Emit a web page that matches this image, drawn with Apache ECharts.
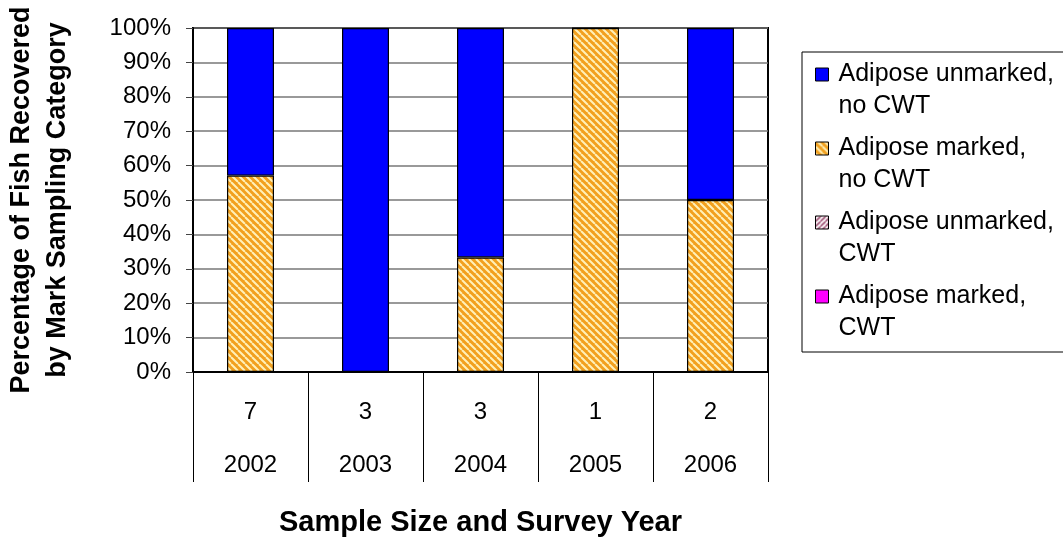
<!DOCTYPE html>
<html>
<head>
<meta charset="utf-8">
<script src="https://cdn.jsdelivr.net/npm/echarts@6/dist/echarts.min.js"></script>
<style>
  html, body { margin: 0; padding: 0; background: #ffffff; }
  #chart { width: 1063px; height: 538px; }
</style>
</head>
<body>
<div id="chart"></div>
<script>
// Survey years and the number of fish recovered in each year
const years = ['2002', '2003', '2004', '2005', '2006'];
const sampleSizes = ['7', '3', '3', '1', '2'];

// Mark sampling categories (legend order, top of stack first)
const nameUnmarkedNoCwt = 'Adipose unmarked,\nno CWT';
const nameMarkedNoCwt = 'Adipose marked,\nno CWT';
const nameUnmarkedCwt = 'Adipose unmarked,\nCWT';
const nameMarkedCwt = 'Adipose marked,\nCWT';

// Percent of fish in each category per year
const unmarkedNoCwt = [42.9, 100, 66.7, 0, 50];
const markedNoCwt = [57.1, 0, 33.3, 100, 50];
const unmarkedCwt = [0, 0, 0, 0, 0];
const markedCwt = [0, 0, 0, 0, 0];

const FONT = '"Liberation Sans", Arial, Helvetica, sans-serif';

// Diagonal hatch fill built on a small repeating canvas tile
function hatch(bg, fg, dir, size, width) {
  const c = document.createElement('canvas');
  c.width = size; c.height = size;
  const g = c.getContext('2d');
  g.fillStyle = bg;
  g.fillRect(0, 0, size, size);
  g.strokeStyle = fg;
  g.lineWidth = width;
  g.beginPath();
  for (let k = -1; k <= 1; k++) {
    if (dir === 'down') {
      g.moveTo(k * size, 0); g.lineTo(k * size + size, size);
    } else {
      g.moveTo(k * size, size); g.lineTo(k * size + size, 0);
    }
  }
  g.stroke();
  return { image: c, repeat: 'repeat' };
}

const orangeHatch = hatch('#f2a01e', '#fff0b8', 'down', 7, 2);
const mauveHatch = hatch('#ffffff', '#9a4a6e', 'up', 5, 1.6);

// Legend swatch: a 13px square placed beside the first text line of a two-line entry
const legendIcon = 'path://M0,0M18,64M0,9.5h13v13h-13z';

const barStyle = (color) => ({ color: color, borderColor: '#000', borderWidth: 1.2 });

const chart = echarts.init(document.getElementById('chart'), null, { renderer: 'canvas' });

chart.setOption({
  animation: false,
  backgroundColor: '#ffffff',
  textStyle: { fontFamily: FONT, color: '#000' },
  grid: {
    left: 193, top: 28, right: 295, bottom: 166,
    outerBoundsMode: 'none',
    show: true, borderColor: '#000', borderWidth: 2, backgroundColor: 'transparent'
  },
  legend: {
    orient: 'vertical',
    left: 802, top: 52,
    padding: [6, 40, 7, 13],
    itemGap: 9,
    itemWidth: 18,
    itemHeight: 64,
    icon: legendIcon,
    borderColor: '#000', borderWidth: 1,
    backgroundColor: '#fff',
    itemStyle: { borderColor: '#000', borderWidth: 1 },
    textStyle: { fontFamily: FONT, fontSize: 25, lineHeight: 32, color: '#000' },
    data: [nameUnmarkedNoCwt, nameMarkedNoCwt, nameUnmarkedCwt, nameMarkedCwt]
  },
  xAxis: {
    type: 'category',
    data: years,
    boundaryGap: true,
    axisLine: { show: true, lineStyle: { color: '#000', width: 2 } },
    axisTick: { show: true, length: 110, lineStyle: { color: '#000', width: 1 } },
    axisLabel: {
      interval: 0,
      margin: 14,
      formatter: (v, i) => '{n|' + sampleSizes[i] + '}\n{y|' + v + '}',
      rich: {
        n: { fontFamily: FONT, fontSize: 24, lineHeight: 53, color: '#000' },
        y: { fontFamily: FONT, fontSize: 24, lineHeight: 53, color: '#000' }
      }
    },
    name: 'Sample Size and Survey Year',
    nameLocation: 'middle',
    nameGap: 136,
    nameTextStyle: { fontFamily: FONT, fontSize: 29, fontWeight: 'bold', color: '#000' }
  },
  yAxis: {
    type: 'value',
    min: 0, max: 100, interval: 10,
    axisLine: { show: true, lineStyle: { color: '#000', width: 2 } },
    axisTick: { show: true, length: 7, lineStyle: { color: '#444', width: 1 } },
    axisLabel: {
      margin: 22,
      formatter: '{value}%',
      fontFamily: FONT, fontSize: 24, color: '#000'
    },
    splitLine: { show: true, lineStyle: { color: '#777', width: 1.6 } },
    name: 'Percentage of Fish Recovered\nby Mark Sampling Category',
    nameLocation: 'middle',
    nameRotate: 90,
    nameGap: 117,
    nameTextStyle: { fontFamily: FONT, fontSize: 27, fontWeight: 'bold', lineHeight: 36, color: '#000' }
  },
  series: [
    { name: nameMarkedCwt, type: 'bar', stack: 'all', barWidth: 47, data: markedCwt, itemStyle: barStyle('#ff00ff') },
    { name: nameUnmarkedCwt, type: 'bar', stack: 'all', barWidth: 47, data: unmarkedCwt, itemStyle: barStyle(mauveHatch) },
    { name: nameMarkedNoCwt, type: 'bar', stack: 'all', barWidth: 47, data: markedNoCwt, itemStyle: barStyle(orangeHatch) },
    { name: nameUnmarkedNoCwt, type: 'bar', stack: 'all', barWidth: 47, data: unmarkedNoCwt, itemStyle: barStyle('#0000ff') }
  ]
});
</script>
</body>
</html>
